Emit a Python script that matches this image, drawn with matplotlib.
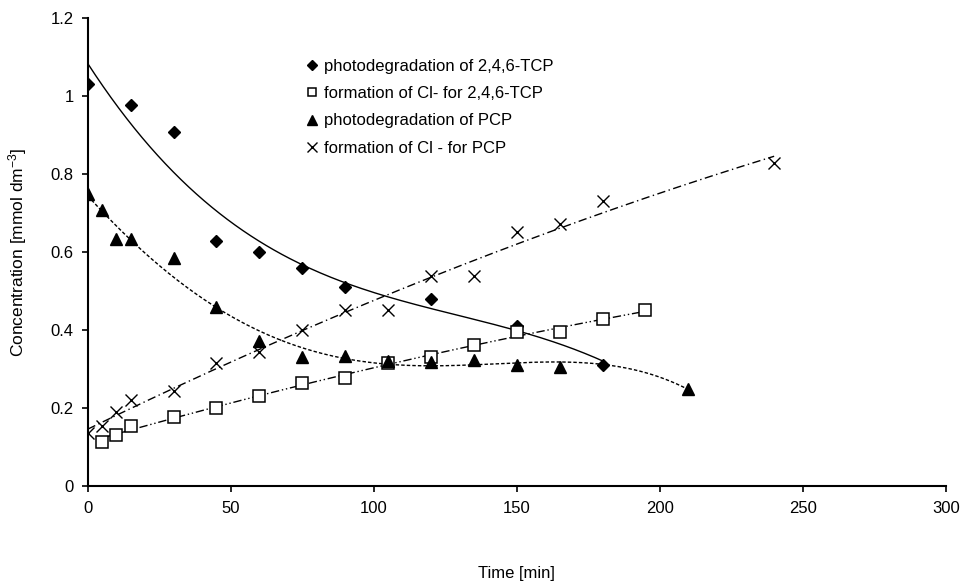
import numpy as np
from matplotlib import pyplot as plt

plt.rcParams['font.family'] = ['Liberation Sans', 'DejaVu Sans']
plt.rcParams['mathtext.fontset'] = 'custom'
plt.rcParams['mathtext.rm'] = 'Liberation Sans'
plt.rcParams['mathtext.it'] = 'Liberation Sans'

# 2,4,6-TCP photodegradation
t_tcp = [0, 15, 30, 45, 60, 75, 90, 120, 150, 180]
c_tcp = [1.03, 0.977, 0.907, 0.628, 0.600, 0.560, 0.511, 0.479, 0.411, 0.310]

# Cl- formation for 2,4,6-TCP
t_cl_tcp = [5, 10, 15, 30, 45, 60, 75, 90, 105, 120, 135, 150, 165, 180, 195]
c_cl_tcp = [0.114, 0.132, 0.154, 0.178, 0.199, 0.232, 0.265, 0.278, 0.316,
            0.330, 0.362, 0.395, 0.394, 0.428, 0.451]

# PCP photodegradation
t_pcp = [0, 5, 10, 15, 30, 45, 60, 75, 90, 105, 120, 135, 150, 165, 210]
c_pcp = [0.750, 0.708, 0.633, 0.633, 0.584, 0.458, 0.373, 0.330, 0.333,
         0.321, 0.319, 0.323, 0.310, 0.306, 0.250]

# Cl- formation for PCP
t_cl_pcp = [0, 5, 10, 15, 30, 45, 60, 75, 90, 105, 120, 135, 150, 165, 180, 240]
c_cl_pcp = [0.135, 0.154, 0.191, 0.221, 0.244, 0.315, 0.344, 0.400, 0.451,
            0.451, 0.538, 0.538, 0.651, 0.673, 0.731, 0.829]

labels = ['photodegradation of 2,4,6-TCP', 'formation of Cl- for 2,4,6-TCP',
          'photodegradation of PCP', 'formation of Cl - for PCP']

fig = plt.figure(figsize=(9.61, 5.81), dpi=100)
ax = fig.add_axes([0.0913, 0.1635, 0.8928, 0.8055])


def trend(t, c, deg):
    xs = np.linspace(min(t), max(t), 200)
    return xs, np.polyval(np.polyfit(t, c, deg), xs)


# trendlines
ax.plot(*trend(t_tcp, c_tcp, 3), c='k', lw=1.0, ls='-')
ax.plot(*trend(t_cl_tcp, c_cl_tcp, 2), c='k', lw=1.0, ls=(0, (6, 2, 1, 2, 1, 2)))
ax.plot(*trend(t_pcp, c_pcp, 4), c='k', lw=1.0, ls=(0, (2.5, 1.5)))
ax.plot(*trend(t_cl_pcp, c_cl_pcp, 2), c='k', lw=1.0, ls=(0, (6, 2.5, 1, 2.5)))

# markers
ax.plot(t_tcp, c_tcp, ls='none', marker='D', ms=6, mfc='k', mec='k', label=labels[0])
ax.plot(t_cl_tcp, c_cl_tcp, ls='none', marker='s', ms=8, mfc='white', mec='k',
        mew=1.1, label=labels[1])
ax.plot(t_pcp, c_pcp, ls='none', marker='^', ms=9, mfc='k', mec='k', label=labels[2])
ax.plot(t_cl_pcp, c_cl_pcp, ls='none', marker='x', ms=8.5, mec='k', mew=1.0,
        label=labels[3])

ax.set_xlim(0, 300)
ax.set_ylim(0, 1.2)
ax.set_xticks(np.arange(0, 301, 50))
yt = np.arange(0, 1.21, 0.2)
ax.set_yticks(yt)
ax.set_yticklabels(['{:g}'.format(round(v, 1)) for v in yt])

for s in ['top', 'right']:
    ax.spines[s].set_visible(False)
for s in ['left', 'bottom']:
    ax.spines[s].set_linewidth(1.5)
ax.tick_params(direction='out', length=4, width=1.2, labelsize=12)
ax.tick_params(axis='x', pad=7)
ax.tick_params(axis='y', pad=6)

ax.set_xlabel('Time [min]', fontsize=12)
ax.xaxis.set_label_coords(0.5, -0.171)
ax.set_ylabel(r'Concentration [mmol dm$^{-3}$]', fontsize=12.5)
ax.yaxis.set_label_coords(-0.068, 0.5)

ax.legend(loc='upper left', bbox_to_anchor=(0.2536, 0.913), frameon=False,
          fontsize=12, handlelength=0.8, handletextpad=0.3, borderpad=0,
          borderaxespad=0, labelspacing=0.74, markerscale=0.8)

fig.savefig('out.png', dpi=100)
